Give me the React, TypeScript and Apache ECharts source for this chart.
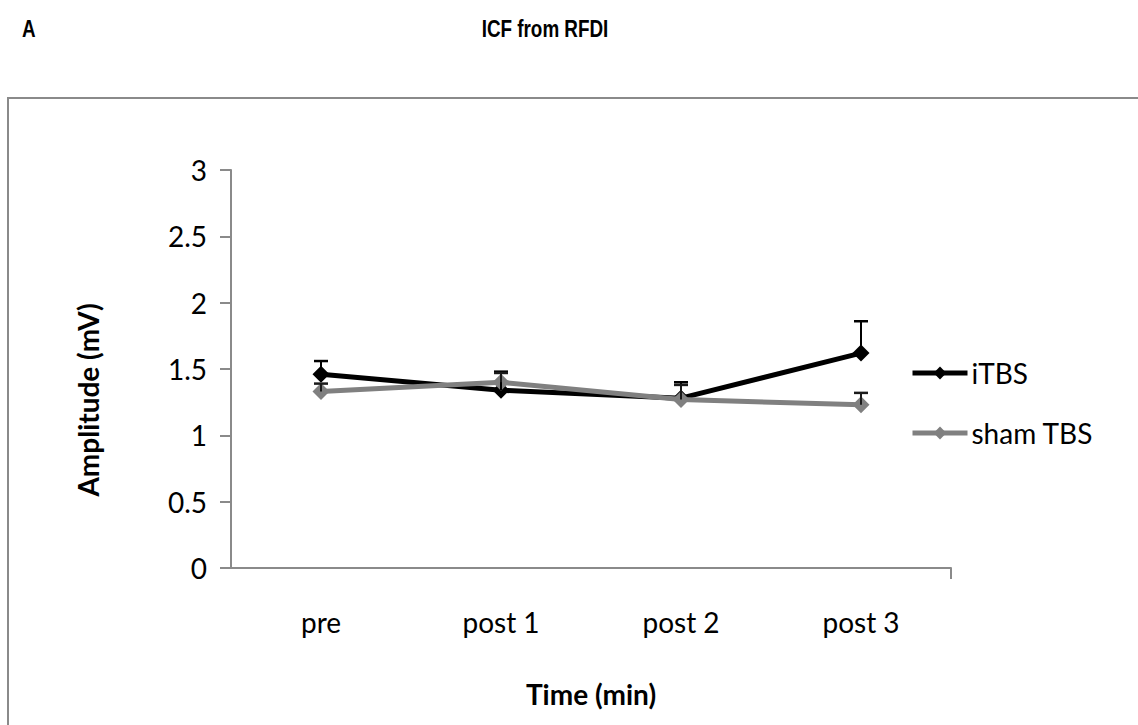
import React, { useEffect, useRef } from "react";
import * as echarts from "echarts";

const categories = ["pre", "post 1", "post 2", "post 3"];
const itbsValues = [1.46, 1.34, 1.28, 1.62];
const itbsErrorTop = [1.56, 1.48, 1.40, 1.86];
const shamValues = [1.33, 1.40, 1.27, 1.23];
const shamErrorTop = [1.39, 1.47, 1.38, 1.32];
const yTicks = [0, 0.5, 1, 1.5, 2, 2.5, 3];

const FONT = "Lato, 'Open Sans', sans-serif";
const TITLE_FAMILY = "'Liberation Sans', Arial, sans-serif";

function errorSeries(name: string, values: number[], tops: number[], color: string) {
  return {
    type: "custom",
    name,
    silent: true,
    z: 5,
    data: values.map((v, i) => [i, v, tops[i]]),
    renderItem: (params: any, api: any) => {
      const x = api.value(0);
      const p0 = api.coord([x, api.value(1)]);
      const p1 = api.coord([x, api.value(2)]);
      const hw = 7;
      return {
        type: "group",
        children: [
          { type: "line", shape: { x1: p0[0], y1: p0[1], x2: p1[0], y2: p1[1] }, style: { stroke: color, lineWidth: 2 } },
          { type: "line", shape: { x1: p1[0] - hw, y1: p1[1], x2: p1[0] + hw, y2: p1[1] }, style: { stroke: color, lineWidth: 2.5 } },
        ],
      };
    },
  };
}

export default function App() {
  const ref = useRef<HTMLDivElement>(null);
  useEffect(() => {
    document.body.style.margin = "0";
    const chart = echarts.init(ref.current!, null, { renderer: "svg" });
    chart.setOption({
      animation: false,
      backgroundColor: "#ffffff",
      grid: { left: 231, right: 187, top: 170, bottom: 157, containLabel: false },
      graphic: [
        { type: "rect", shape: { x: 8, y: 98, width: 1140, height: 640 }, style: { fill: "none", stroke: "#8a8a8a", lineWidth: 2 }, silent: true },
        { type: "text", x: 22, y: 29, scaleX: 0.82, style: { text: "A", fontSize: 23, fontWeight: "bold", fontFamily: TITLE_FAMILY, fill: "#000", verticalAlign: "middle" } },
        { type: "text", x: 545, y: 29, scaleX: 0.82, style: { text: "ICF from RFDI", fontSize: 23, fontWeight: "bold", fontFamily: TITLE_FAMILY, fill: "#000", align: "center", verticalAlign: "middle" } },
        { type: "text", x: 88, y: 400, rotation: Math.PI / 2, style: { text: "Amplitude (mV)", fontSize: 28, fontWeight: "bold", fontFamily: FONT, fill: "#000", align: "center", verticalAlign: "middle" } },
        { type: "line", shape: { x1: 951, y1: 568, x2: 951, y2: 579 }, style: { stroke: "#8a8a8a", lineWidth: 2 }, silent: true },
      ],
      legend: {
        orient: "vertical",
        left: 905,
        top: 354,
        itemWidth: 55,
        itemHeight: 16,
        itemGap: 32,
        textStyle: { fontFamily: FONT, fontSize: 28, color: "#000", padding: [0, 0, 0, -1] },
        data: [
          { name: "iTBS", lineStyle: { width: 5, color: "#000000" } },
          { name: "sham TBS", lineStyle: { width: 5, color: "#808080" } },
        ],
      },
      xAxis: {
        type: "category",
        data: categories,
        boundaryGap: true,
        name: "Time (min)",
        nameLocation: "middle",
        nameGap: 112,
        nameTextStyle: { fontFamily: FONT, fontSize: 28, fontWeight: "bold", color: "#000" },
        axisLine: { lineStyle: { color: "#8a8a8a", width: 2 } },
        axisTick: { alignWithLabel: true, length: 11, lineStyle: { color: "#8a8a8a", width: 2 } },
        axisLabel: { fontFamily: FONT, fontSize: 28, color: "#000", margin: 40 },
      },
      yAxis: {
        type: "value",
        min: 0,
        max: 3,
        interval: 0.5,
        axisLine: { show: true, lineStyle: { color: "#8a8a8a", width: 2 } },
        axisTick: { show: true, length: 11, lineStyle: { color: "#8a8a8a", width: 2 } },
        splitLine: { show: false },
        axisLabel: { fontFamily: FONT, fontSize: 28, color: "#000", margin: 24, formatter: (v: number) => (yTicks.includes(v) ? String(v) : "") },
      },
      series: [
        errorSeries("iTBS-err", itbsValues, itbsErrorTop, "#000000"),
        errorSeries("sham-err", shamValues, shamErrorTop, "#1a1a1a"),
        {
          type: "line",
          name: "iTBS",
          data: itbsValues,
          symbol: "diamond",
          symbolSize: 17,
          z: 3,
          lineStyle: { color: "#000000", width: 5 },
          itemStyle: { color: "#000000" },
        },
        {
          type: "line",
          name: "sham TBS",
          data: shamValues,
          symbol: "diamond",
          symbolSize: 17,
          z: 4,
          lineStyle: { color: "#808080", width: 5 },
          itemStyle: { color: "#808080" },
        },
      ],
    });
    return () => chart.dispose();
  }, []);
  return <div ref={ref} style={{ width: 1138, height: 725 }} />;
}
